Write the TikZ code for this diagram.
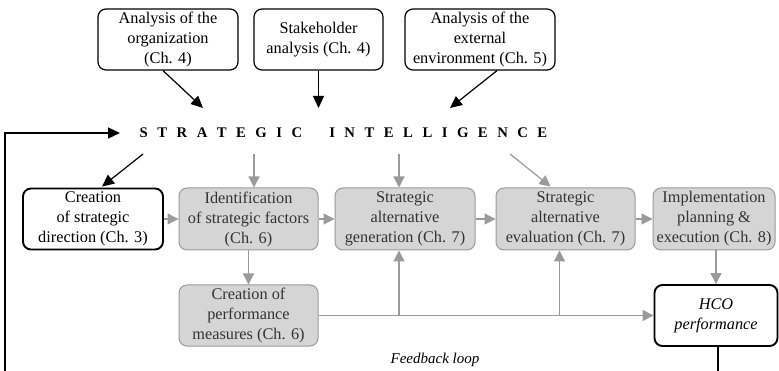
\documentclass[tikz,border=0pt]{standalone}
\usepackage{fontspec}
\setmainfont{Liberation Serif}
\usepackage{tikz}
\usetikzlibrary{arrows.meta, positioning}
\definecolor{boxgray}{HTML}{D5D5D5}
\definecolor{linegray}{HTML}{9A9A9A}
\tikzset{
	box/.style={
		rectangle,
		rounded corners=8pt,
		align=center,
		inner sep=2pt,
		font=\fontsize{16.3}{20}\selectfont
	},
	topbox/.style={box, draw=black, line width=1.2pt, fill=white, minimum height=61pt},
	keybox/.style={box, draw=black, line width=1.9pt, fill=white, minimum height=61pt},
	graybox/.style={box, draw=linegray, line width=1pt, fill=boxgray, text=black!80, minimum height=62pt},
	blackarrow/.style={-{Triangle[length=12pt,width=11pt]}, line width=1.2pt, black},
	grayarrow/.style={-{Triangle[length=11pt,width=11pt]}, line width=1.2pt, linegray},
	grayline/.style={line width=1.2pt, linegray},
	blackline/.style={line width=1.2pt, black},
}

\begin{document}
\begin{tikzpicture}[x=1pt,y=-1pt]
		\useasboundingbox (0,0) rectangle (779,371);

		% the inputs
		\node[topbox, minimum width=140pt] (orga) at (168,39.5) {Analysis of the\\organization\\(Ch. 4)};
		\node[topbox, minimum width=129pt] (stake) at (318.5,39.5) {Stakeholder\\analysis (Ch. 4)};
		\node[topbox, minimum width=150pt] (extenv) at (480,39.5) {Analysis of the\\external\\environment (Ch. 5)};

		% the title
		\node[inner sep=0pt, font=\fontsize{14.7}{16}\selectfont\bfseries] (intel) at (343.5,133)
			{\spaceskip=9.5pt S T R A T E G I C\hspace{27pt}I N T E L L I G E N C E};

		% the process
		\node[keybox, minimum width=140pt] (direc) at (93,219) {Creation\\of strategic\\direction (Ch. 3)};
		\node[graybox, minimum width=139pt] (factors) at (248.5,219) {Identification\\of strategic factors\\(Ch. 6)};
		\node[graybox, minimum width=140pt] (gener) at (405,219) {Strategic\\alternative\\generation (Ch. 7)};
		\node[graybox, minimum width=139pt] (evalu) at (565.5,219) {Strategic\\alternative\\evaluation (Ch. 7)};
		\node[graybox, minimum width=122pt] (implem) at (714,219) {Implementation\\planning \&\\execution (Ch. 8)};
		\node[graybox, minimum width=139pt, minimum height=61pt] (measur) at (248.5,315.5) {Creation of\\performance\\measures (Ch. 6)};
		\node[keybox, minimum width=123pt, font=\fontsize{16.3}{20}\selectfont\itshape] (perf) at (716,315.5) {HCO\\performance};
		\node[font=\fontsize{15}{18}\selectfont\itshape] (fbl) at (435,360) {Feedback loop};

		% the loose ends
		\coordinate (ta) at (203,108);
		\coordinate (tb) at (318.5,108);
		\coordinate (tc) at (450,108);
		\coordinate (sa) at (143,154);
		\coordinate (sb) at (254,154);
		\coordinate (sc) at (399,154);
		\coordinate (sd) at (510,154);
		\coordinate (loopl) at (5,371);
		\coordinate (loopr) at (718,371);

		% the arrows
		\draw[blackarrow] ([xshift=-5pt]orga.south) -- (ta);
		\draw[blackarrow] (stake.south) -- (tb);
		\draw[blackarrow] ([xshift=17pt]extenv.south) -- (tc);
		\draw[blackarrow] (loopl) |- (intel.west -| 120,0);
		\draw[blackline] ([xshift=2pt]perf.south) -- (loopr);

		\draw[blackarrow] (sa) -- ([xshift=9pt,yshift=1pt]direc.north);
		\draw[grayarrow] (sb) -- (sb |- factors.north);
		\draw[grayarrow] (sc) -- (sc |- gener.north);
		\draw[grayarrow] (sd) -- ([xshift=-15pt,yshift=1pt]evalu.north);

		\draw[grayarrow] (direc) -- (factors);
		\draw[grayarrow] (factors) -- (gener);
		\draw[grayarrow] (gener) -- (evalu);
		\draw[grayarrow] (evalu) -- (implem);
		\draw[grayarrow] (factors) -- (measur);
		\draw[grayarrow] (implem.south -| perf.north) -- (perf.north);
		\draw[grayarrow] (measur) -- (perf);
		\draw[grayarrow] (sc |- measur.east) -- (sc |- gener.south);
		\draw[grayarrow] ([xshift=-6pt]evalu.south |- measur.east) -- ([xshift=-6pt]evalu.south);
	\end{tikzpicture}
\end{document}
